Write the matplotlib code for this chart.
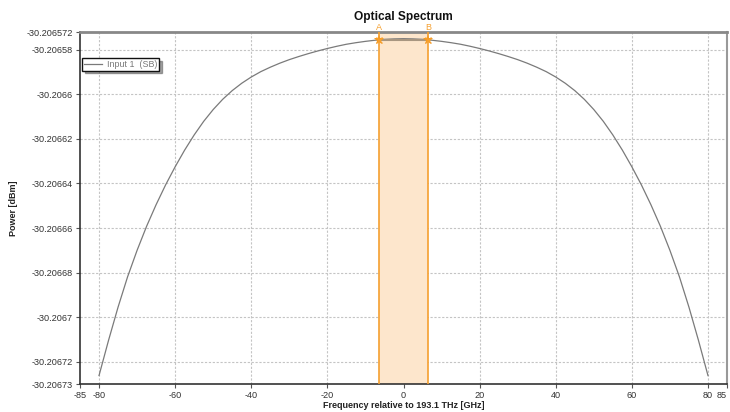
import matplotlib
matplotlib.use("Agg")
import matplotlib.pyplot as plt
from matplotlib.ticker import FixedLocator, FixedFormatter

plt.rcParams['font.family'] = ['Liberation Sans', 'DejaVu Sans']

# Data
freq = [-80, -77.5, -75, -72.5, -70, -67.5, -65, -62.5, -60, -57.5, -55, -52.5, -50,
        -47.5, -45, -42.5, -40, -37.5, -35, -32.5, -30, -27.5, -25, -22.5, -20,
        -17.5, -15, -12.5, -10, -7.5, -5, -2.5, 0,
        2.5, 5, 7.5, 10, 12.5, 15, 17.5, 20, 22.5, 25, 27.5, 30, 32.5, 35, 37.5,
        40, 42.5, 45, 47.5, 50, 52.5, 55, 57.5, 60, 62.5, 65, 67.5, 70, 72.5,
        75, 77.5, 80]
power = [-30.2067262, -30.2067104, -30.2066955, -30.2066819, -30.2066700,
         -30.2066592, -30.2066495, -30.2066406, -30.2066325, -30.2066250,
         -30.2066182, -30.2066121, -30.2066068, -30.2066022, -30.2065983,
         -30.2065950, -30.2065922, -30.2065898, -30.2065878, -30.2065860,
         -30.2065844, -30.2065830, -30.2065817, -30.2065805, -30.2065794,
         -30.2065784, -30.2065775, -30.2065768, -30.2065762, -30.2065757,
         -30.2065753, -30.2065751, -30.2065750,
         -30.2065751, -30.2065753, -30.2065757, -30.2065762, -30.2065768,
         -30.2065775, -30.2065784, -30.2065794, -30.2065805, -30.2065817,
         -30.2065830, -30.2065844, -30.2065860, -30.2065878, -30.2065898,
         -30.2065922, -30.2065950, -30.2065983, -30.2066022, -30.2066068,
         -30.2066121, -30.2066182, -30.2066250, -30.2066325, -30.2066406,
         -30.2066495, -30.2066592, -30.2066700, -30.2066819, -30.2066955,
         -30.2067104, -30.2067262]

marker_x = [-6.5, 6.5]
marker_y = [-30.2065756, -30.2065756]
marker_names = ['A', 'B']

xticks = [-85, -80, -60, -40, -20, 0, 20, 40, 60, 80, 85]
xticklabels = ['-85', '-80', '-60', '-40', '-20', '0', '20', '40', '60', '80', '85']
yticks = [-30.20673, -30.20672, -30.2067, -30.20668, -30.20666, -30.20664,
          -30.20662, -30.2066, -30.20658, -30.206572]
yticklabels = ['-30.20673', '-30.20672', '-30.2067', '-30.20668', '-30.20666',
               '-30.20664', '-30.20662', '-30.2066', '-30.20658', '-30.206572']
grid_x = [-80, -60, -40, -20, 0, 20, 40, 60, 80]
grid_y = [-30.20672, -30.2067, -30.20668, -30.20666, -30.20664, -30.20662,
          -30.2066, -30.20658]

fig = plt.figure(figsize=(7.3, 4.12), dpi=100)
ax = fig.add_axes([80 / 730, 1 - 384 / 412, (727 - 80) / 730, (384 - 32) / 412])

ax.set_xlim(-85, 85)
ax.set_ylim(-30.20673, -30.206572)

# grid
for gx in grid_x:
    ax.axvline(gx, color='#c4c4c4', lw=0.8, ls=(0, (2, 1.5)), zorder=0)
for gy in grid_y:
    ax.axhline(gy, color='#c4c4c4', lw=0.8, ls=(0, (2, 1.5)), zorder=0)

# marker band
ax.axvspan(marker_x[0], marker_x[1], color='#fde6cc', zorder=1, lw=0)
for mx in marker_x:
    ax.axvline(mx, color='#f5a030', lw=1.2, zorder=3)

# curve
ax.plot(freq, power, color='#7a7a7a', lw=0.9, zorder=4, label='Input 1  (SB)')

# marker connection line and markers
ax.plot(marker_x, marker_y, color='#a89680', lw=1.5, zorder=5)
ax.plot(marker_x, marker_y, ls='none', marker='*', ms=8, color='#f59a20',
        markeredgewidth=0, zorder=6)
ax.plot(marker_x, marker_y, ls='none', marker='x', ms=5, color='#f5a030',
        markeredgewidth=0.9, zorder=6)
for mx, name in zip(marker_x, marker_names):
    ax.text(mx, -30.206572, name, color='#f5a030', fontsize=6.5,
            ha='center', va='bottom', clip_on=False)

# ticks
ax.xaxis.set_major_locator(FixedLocator(xticks))
ax.xaxis.set_major_formatter(FixedFormatter(xticklabels))
ax.yaxis.set_major_locator(FixedLocator(yticks))
ax.yaxis.set_major_formatter(FixedFormatter(yticklabels))
ax.tick_params(axis='both', labelsize=6.6, labelcolor='#333333', color='#555555',
               length=3, width=0.8, direction='out', pad=2)
xlabels = ax.get_xticklabels()
xlabels[-1].set_horizontalalignment('right')

# spines
ax.spines['left'].set_color('#333333')
ax.spines['left'].set_linewidth(1.2)
ax.spines['bottom'].set_color('#333333')
ax.spines['bottom'].set_linewidth(1.2)
ax.spines['top'].set_color('#888888')
ax.spines['top'].set_linewidth(2.0)
ax.spines['right'].set_color('#999999')
ax.spines['right'].set_linewidth(1.5)

ax.set_title('Optical Spectrum', fontsize=8.6, fontweight='bold', pad=9, color='#111111')
ax.set_xlabel('Frequency relative to 193.1 THz [GHz]', fontsize=6.5, fontweight='bold',
              labelpad=1, color='#222222')
ax.set_ylabel('Power [dBm]', fontsize=6.5, fontweight='bold', color='#222222')
ax.yaxis.set_label_coords((18 - 80) / 647, 0.5)

leg = ax.legend(loc='upper left', bbox_to_anchor=(0.003, 0.926), fontsize=6.4,
                frameon=True, fancybox=False, shadow=True, borderpad=0.2,
                handlelength=2.1, handletextpad=0.5, borderaxespad=0)
leg.get_frame().set_edgecolor('#111111')
leg.get_frame().set_linewidth(1.0)
for t in leg.get_texts():
    t.set_color('#777777')

fig.savefig('out.png', dpi=100)
